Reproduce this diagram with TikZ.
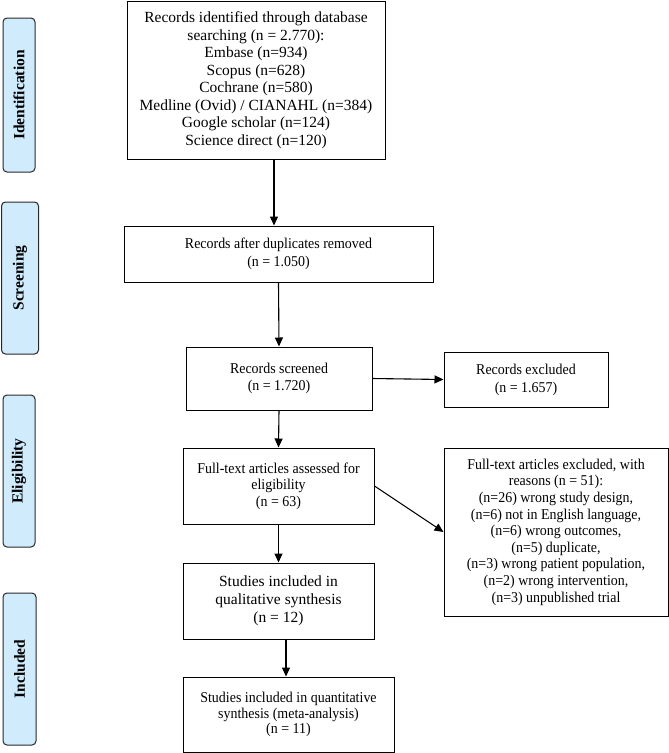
\documentclass[tikz,border=0pt]{standalone}
\usepackage{fontspec}
\setmainfont{Liberation Serif}
\newfontfamily\condfont{Liberation Serif}[FakeStretch=0.93]
\usetikzlibrary{arrows.meta,calc}
\definecolor{sidefill}{RGB}{207,235,252}
\definecolor{sideline}{RGB}{40,40,40}
\tikzset{
  box/.style={draw=black, line width=1pt, rectangle, inner sep=0pt, align=center, anchor=center},
  side/.style={draw=sideline, line width=1pt, fill=sidefill, rounded corners=4pt, inner sep=0pt, anchor=center},
  arr/.style={line width=1.1pt, -{Triangle[length=9pt,width=8pt]}},
  sidetext/.style={rotate=90, font=\fontsize{15.5}{18}\selectfont\bfseries}
}
\begin{document}
\begin{tikzpicture}[x=1pt,y=-1pt]
\useasboundingbox (0,0) rectangle (669,753);

% stage labels
\node[side, minimum width=32pt, minimum height=154pt] (sid) at (19,95) {};
\node[sidetext] at (sid.center) {Identification};
\node[side, minimum width=37pt, minimum height=152pt] (sscr) at (20,278) {};
\node[sidetext] at (sscr.center) {Screening};
\node[side, minimum width=32pt, minimum height=152pt] (selig) at (19,471) {};
\node[sidetext] at (selig.center) {Eligibility};
\node[side, minimum width=33pt, minimum height=152pt] (sincl) at (19.5,669) {};
\node[sidetext] at (sincl.center) {Included};

% flow boxes
\node[box, minimum width=258pt, minimum height=158pt, font=\fontsize{15.5}{17.5}\selectfont] (top) at (256,80)
 {Records identified through database\\ searching (n = 2.770):\\ Embase (n=934)\\ Scopus (n=628)\\ Cochrane (n=580)\\ Medline (Ovid) / CIANAHL (n=384)\\ Google scholar (n=124)\\ Science direct (n=120)};

\node[box, minimum width=309pt, minimum height=56pt, font=\condfont\fontsize{15}{17.5}\selectfont] (dup) at (278.5,254)
 {Records after duplicates removed\\ (n = 1.050)};

\node[box, minimum width=186pt, minimum height=63pt, font=\condfont\fontsize{15}{17}\selectfont] (scr) at (279,378.5)
 {Records screened\\[-0.5pt] (n = 1.720)};

\node[box, minimum width=164pt, minimum height=55pt, font=\condfont\fontsize{15}{18}\selectfont] (exc) at (526,379.5)
 {Records excluded\\ (n = 1.657)};

\node[box, minimum width=191pt, minimum height=76pt, font=\condfont\fontsize{15}{16.5}\selectfont] (ft) at (278.5,486)
 {Full-text articles assessed for\\ eligibility\\ (n = 63)};

\node[box, minimum width=224pt, minimum height=168pt, font=\condfont\fontsize{15}{16.6}\selectfont] (ftx) at (556,532)
 {Full-text articles excluded, with\\ reasons (n = 51):\\ (n=26) wrong study design,\\ (n=6) not in English language,\\ (n=6) wrong outcomes,\\ (n=5) duplicate,\\ (n=3) wrong patient population,\\ (n=2) wrong intervention,\\ (n=3) unpublished trial};

\node[box, minimum width=191pt, minimum height=76pt, font=\fontsize{15.5}{18}\selectfont] (qual) at (278.5,601)
 {Studies included in\\ qualitative synthesis\\ (n = 12)};

\node[box, minimum width=211pt, minimum height=75pt, font=\condfont\fontsize{15}{15.7}\selectfont] (quant) at (288.5,714.5)
 {Studies included in quantitative\\ synthesis (meta-analysis)\\ (n = 11)};

% connectors
\draw[arr] ([xshift=18pt]top.south) -- ([xshift=18pt]top.south |- dup.north);
\draw[arr] (dup.south) -- (scr.north);
\draw[arr] (scr.east) -- (exc.west);
\draw[arr] (scr.south) -- (ft.north);
\draw[arr] (ft.east) -- (ftx.west);
\draw[arr] (ft.south) -- (qual.north);
\draw[arr] ([xshift=7.5pt]qual.south) -- ([xshift=7.5pt]qual.south |- quant.north);
\end{tikzpicture}
\end{document}
